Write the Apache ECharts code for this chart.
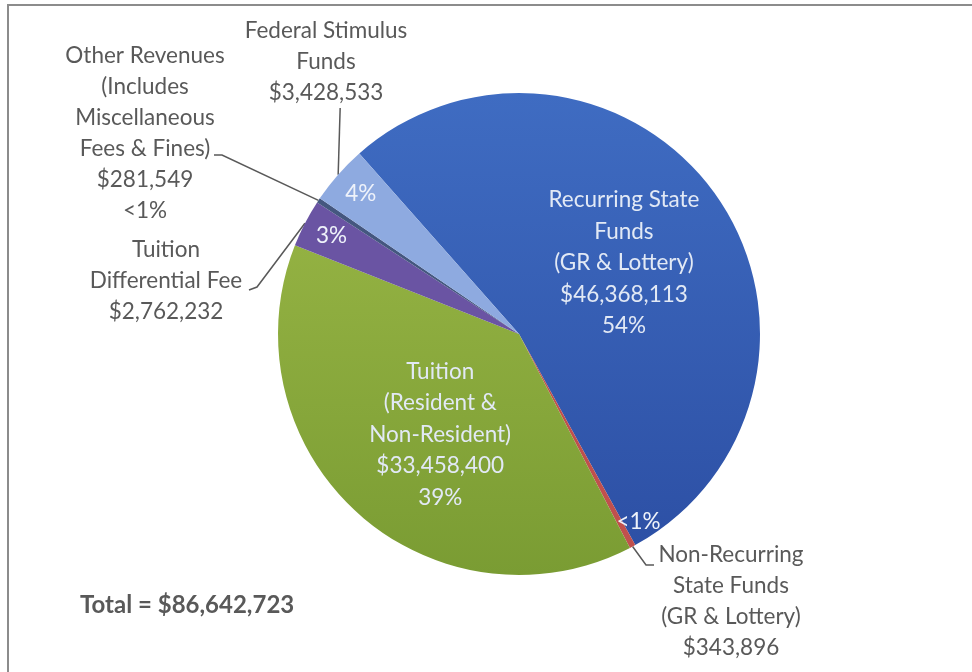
<!DOCTYPE html>
<html>
<head>
<meta charset="utf-8">
<script src="https://cdn.jsdelivr.net/npm/echarts@6/dist/echarts.min.js"></script>
<style>
html,body{margin:0;padding:0;background:#fff;overflow:hidden;}
#chart{width:972px;height:672px;}
</style>
</head>
<body>
<div id="chart"></div>
<script>
// ---- data ----
const categories = [
  'Recurring State Funds (GR & Lottery)',
  'Non-Recurring State Funds (GR & Lottery)',
  'Tuition (Resident & Non-Resident)',
  'Tuition Differential Fee',
  'Other Revenues (Includes Miscellaneous Fees & Fines)',
  'Federal Stimulus Funds'
];
const values = [46368113, 343896, 33458400, 2762232, 281549, 3428533];
const percentLabels = ['54%', '<1%', '39%', '3%', '<1%', '4%'];
const amountLabels = ['$46,368,113', '$343,896', '$33,458,400', '$2,762,232', '$281,549', '$3,428,533'];
const nameLines = [
  ['Recurring State', 'Funds', '(GR & Lottery)'],
  ['Non-Recurring', 'State Funds', '(GR & Lottery)'],
  ['Tuition', '(Resident &', 'Non-Resident)'],
  ['Tuition', 'Differential Fee'],
  ['Other Revenues', '(Includes', 'Miscellaneous', 'Fees & Fines)'],
  ['Federal Stimulus', 'Funds']
];
const totalText = 'Total = $86,642,723';

// ---- styles ----
const colors = [
  new echarts.graphic.LinearGradient(0, 0, 0, 1, [{offset: 0, color: '#3f6cc2'}, {offset: 1, color: '#2d50a5'}]),
  '#c0504d',
  new echarts.graphic.LinearGradient(0, 0, 0, 1, [{offset: 0, color: '#93b142'}, {offset: 1, color: '#7a9c33'}]),
  '#6a54a3',
  '#44577f',
  '#8eaae0'
];
const FONT = 'Lato';
const FS = 22.5;
const center = [519, 334];
const R = 241;

const insideIdx = [0, 2];
const pctRingIdx = [1, 3, 5];
const outsideIdx = [1, 3, 4, 5];

const mainData = categories.map((c, i) => ({
  name: c, value: values[i],
  itemStyle: {color: colors[i]},
  label: {
    show: insideIdx.includes(i),
    formatter: nameLines[i].concat([amountLabels[i], percentLabels[i]]).join('\n')
  }
}));

const ringData = categories.map((c, i) => ({
  name: c, value: values[i],
  label: {show: pctRingIdx.includes(i), formatter: percentLabels[i]}
}));

const outsideText = i => {
  const lines = nameLines[i].concat([amountLabels[i]]);
  if (i === 4) lines.push(percentLabels[i]);
  return lines.join('\n');
};
const outsideData = categories.map((c, i) => ({
  name: c, value: values[i],
  label: {show: outsideIdx.includes(i), formatter: outsideText(i)},
  labelLine: {show: outsideIdx.includes(i)}
}));

// label placement (annotation positions)
const outsidePlace = {
  5: {x: 326, y: 62},
  4: {x: 145, y: 133},
  3: {x: 166, y: 281},
  1: {x: 731, y: 601}
};

const chart = echarts.init(document.getElementById('chart'));
chart.setOption({
  backgroundColor: '#ffffff',
  animation: false,
  graphic: [
    {type: 'rect', shape: {x: 8, y: 5, width: 2000, height: 2000}, style: {fill: 'none', stroke: '#8c8c8c', lineWidth: 2}, silent: true},
    {type: 'text', x: 80, y: 605, style: {text: totalText, font: 'bold 24px ' + FONT, fill: '#595959', verticalAlign: 'middle'}}
  ],
  series: [
    {
      type: 'pie', center: center, radius: R, startAngle: 131.5, clockwise: true,
      avoidLabelOverlap: false, silent: true,
      itemStyle: {borderWidth: 0},
      label: {position: 'inside', color: '#e2e9f5', fontFamily: FONT, fontSize: FS, lineHeight: 31.5},
      labelLayout: p => p.dataIndex === 2 ? {dx: 4, dy: 9} : {dx: 4, dy: 0},
      labelLine: {show: false},
      data: mainData
    },
    {
      type: 'pie', center: center, radius: [175, R], startAngle: 131.5, clockwise: true,
      avoidLabelOverlap: false, silent: true,
      itemStyle: {color: 'rgba(0,0,0,0)', borderWidth: 0},
      label: {position: 'inside', color: '#eef2fa', fontFamily: FONT, fontSize: FS},
      labelLayout: p => p.dataIndex === 1 ? {dx: 20, dy: 2} : {dx: 0, dy: -1},
      labelLine: {show: false},
      data: ringData
    },
    {
      type: 'pie', center: center, radius: R, startAngle: 131.5, clockwise: true,
      avoidLabelOverlap: false, silent: true,
      itemStyle: {color: 'rgba(0,0,0,0)', borderWidth: 0},
      label: {position: 'outside', color: '#595959', fontFamily: FONT, fontSize: FS, lineHeight: 31, align: 'center'},
      labelLine: {show: true, length: 10, length2: 10, lineStyle: {color: '#595959', width: 1.5}},
      labelLayout: function (p) {
        const pl = outsidePlace[p.dataIndex];
        if (!pl) return {};
        const p0 = p.labelLinePoints ? p.labelLinePoints[0] : [0, 0];
        let pts;
        if (p.dataIndex === 5) pts = [p0, [p0[0] + 2, 108], [p0[0] + 2, 108]];
        else if (p.dataIndex === 4) pts = [p0, [222, 155], [214, 155]];
        else if (p.dataIndex === 3) pts = [p0, [257, 287], [249, 290]];
        else pts = [p0, [646, 565], [654, 565]];
        return {x: pl.x, y: pl.y, align: 'center', verticalAlign: 'middle', labelLinePoints: pts};
      },
      data: outsideData
    }
  ]
});
</script>
</body>
</html>
